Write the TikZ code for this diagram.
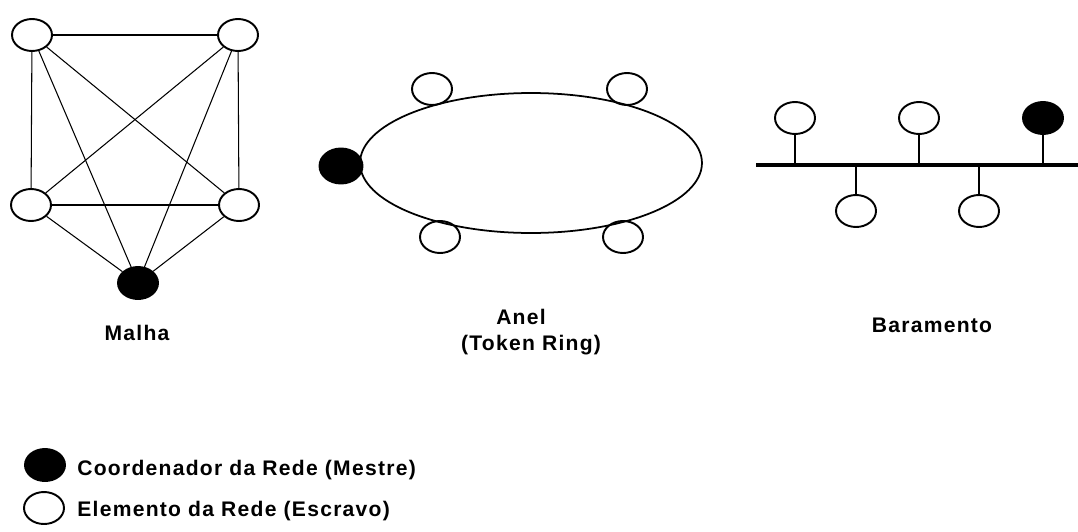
\documentclass[tikz,border=0pt]{standalone}
\usepackage{fontspec}
\setmainfont{Liberation Sans}
\newfontfamily\lblfont[LetterSpace=6]{Liberation Sans}
\usetikzlibrary{shapes.geometric}

\tikzset{
  slave/.style={ellipse,draw,line width=1.1pt,fill=white,minimum width=.8cm,minimum height=.64cm,inner sep=0pt},
  master/.style={slave,fill=black},
  link/.style={line width=.6pt},
  tlabel/.style={font=\lblfont\fontsize{12}{14}\selectfont\bfseries,align=center},
  klabel/.style={anchor=base west,inner sep=0pt,font=\lblfont\fontsize{12}{14}\selectfont\bfseries}
}

\begin{document}
\begin{tikzpicture}[x=.02cm,y=-.02cm]
        \useasboundingbox (0,0) rectangle (1078,531);

        % Malha
        \node[slave] (mtl) at (32,35) {};
        \node[slave] (mtr) at (238,35) {};
        \node[slave] (mbl) at (31,205) {};
        \node[slave] (mbr) at (239,205) {};
        \node[master] (mm) at (138,283) {};
        \draw[link] (mtl) -- (mtr);
        \draw[link] (mtl) -- (mbl);
        \draw[link] (mtr) -- (mbr);
        \draw[line width=1pt] (mbl) -- (mbr);
        \draw[link] (mtl) -- (mbr);
        \draw[link] (mtr) -- (mbl);
        \draw[link] (mtl) -- (mm);
        \draw[link] (mtr) -- (mm);
        \draw[link] (mbl) -- (mm);
        \draw[link] (mbr) -- (mm);
        \node[tlabel] (lmalha) at (137,333) {Malha};

        % Anel
        \node[slave] (atl) at (432,89) {};
        \node[slave] (atr) at (627,89) {};
        \node[slave] (abl) at (440,237) {};
        \node[slave] (abr) at (623,237) {};
        \node[ellipse,draw,line width=1pt,minimum width=6.84cm,minimum height=2.8cm] (ring) at (531,163) {};
        \node[master,minimum width=.86cm,minimum height=.7cm] (am) at (341,166) {};
        \node[tlabel] (lanel) at (521,317) {Anel};
        \node[tlabel] (ltoken) at (531,345) {(Token Ring)};

        % Baramento
        \coordinate (bw) at (756,165);
        \coordinate (be) at (1078,165);
        \draw[line width=2.2pt] (bw) -- (be);
        \node[slave] (b1) at (795,118) {};
        \node[slave] (b2) at (919,118) {};
        \node[master] (b3) at (1043,118) {};
        \node[slave] (b4) at (856,211) {};
        \node[slave] (b5) at (979,211) {};
        \foreach \n in {b1,b2,b3}
          \draw[line width=1.6pt] (\n.south) -- (\n.south |- bw);
        \foreach \n in {b4,b5}
          \draw[line width=1.6pt] (\n.north) -- (\n.north |- bw);
        \node[tlabel] (lbar) at (932,325) {Baramento};

        % legenda
        \node[master] (kmaster) at (45,465) {};
        \node[slave] (kslave) at (44,508) {};
        \node[klabel] (tmaster) at (77,475) {Coordenador da Rede (Mestre)};
        \node[klabel] (tslave) at (77,516) {Elemento da Rede (Escravo)};
      \end{tikzpicture}
\end{document}
